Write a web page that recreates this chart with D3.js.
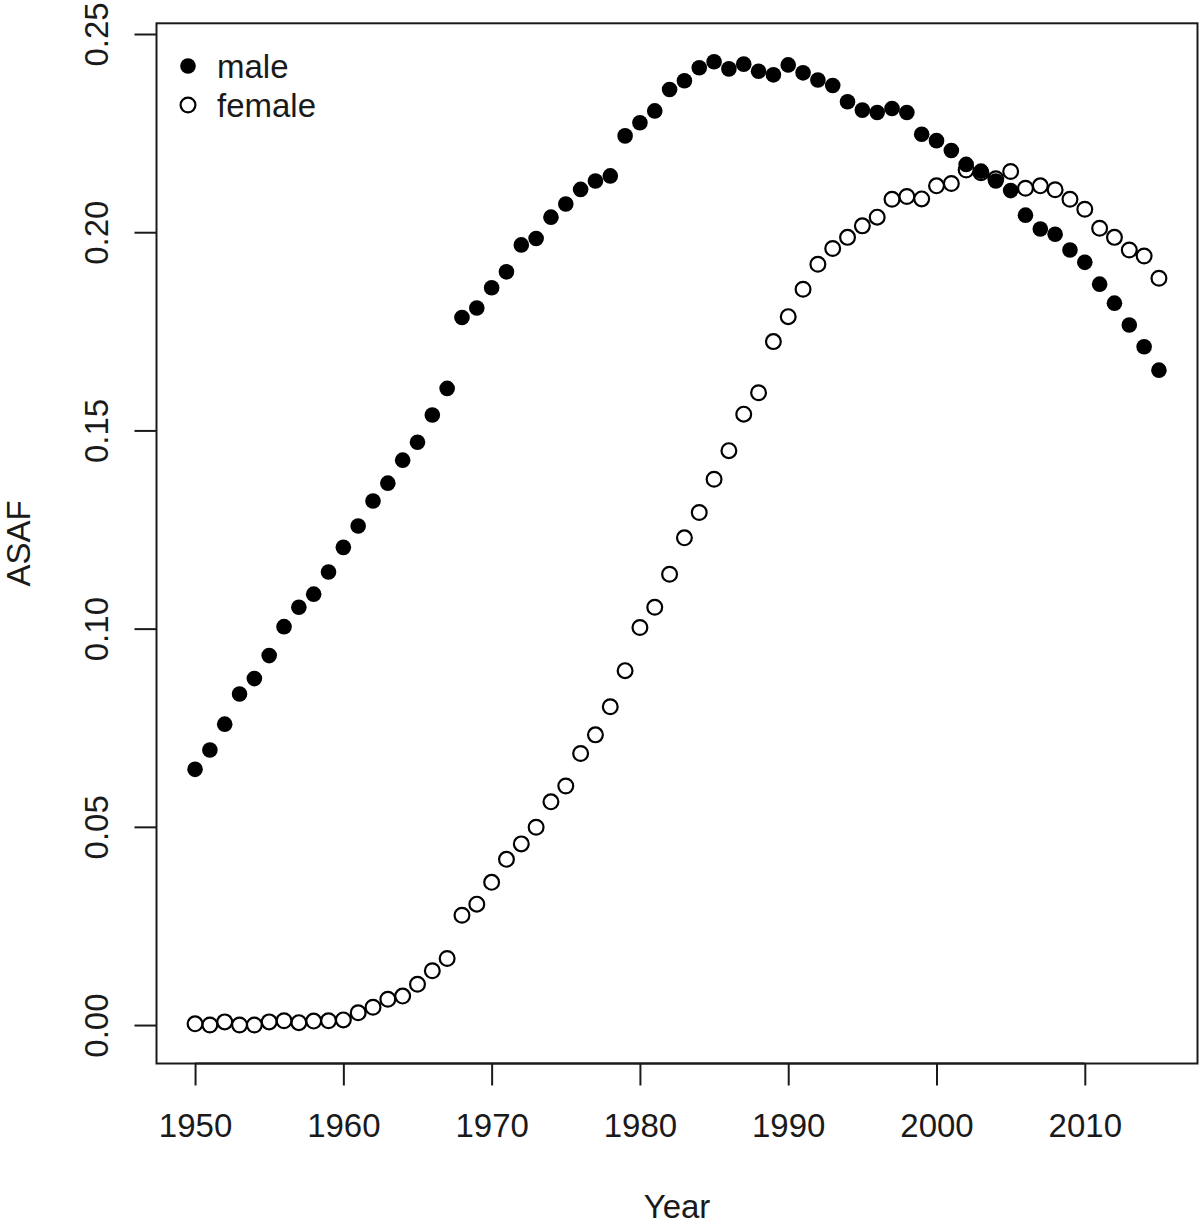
<!DOCTYPE html>
<html>
<head>
<meta charset="utf-8">
<script src="https://cdn.jsdelivr.net/npm/d3@7"></script>
<style>
  html, body { margin: 0; padding: 0; background: #fff; }
  svg { display: block; }
  text { font-family: "Liberation Sans", Arial, Helvetica, sans-serif; fill: #1a1a1a; }
</style>
</head>
<body>
<svg id="chart" width="1200" height="1224"></svg>
<script>
const years = d3.range(1950, 2016);
const male = [
  0.0645, 0.0694, 0.0759, 0.0835, 0.0874, 0.0932, 0.1005, 0.1054, 0.1087, 0.1143,
  0.1205, 0.1259, 0.1322, 0.1367, 0.1425, 0.1470, 0.1539, 0.1606, 0.1785, 0.1809,
  0.1860, 0.1900, 0.1968, 0.1984, 0.2038, 0.2071, 0.2108, 0.2129, 0.2142, 0.2243,
  0.2276, 0.2306, 0.2360, 0.2382, 0.2415, 0.2430, 0.2412, 0.2424, 0.2406, 0.2397,
  0.2422, 0.2402, 0.2384, 0.2370, 0.2329, 0.2308, 0.2302, 0.2312, 0.2302, 0.2247,
  0.2231, 0.2206, 0.2171, 0.2154, 0.2129, 0.2105, 0.2043, 0.2008, 0.1995, 0.1955,
  0.1924, 0.1869, 0.1821, 0.1766, 0.1711, 0.1652
];
const female = [
  0.0003, 0.0000, 0.0008, 0.0000, 0.0000, 0.0008, 0.0011, 0.0006, 0.0010, 0.0011,
  0.0013, 0.0031, 0.0045, 0.0065, 0.0073, 0.0103, 0.0137, 0.0168, 0.0277, 0.0305,
  0.0360, 0.0418, 0.0457, 0.0499, 0.0563, 0.0603, 0.0685, 0.0732, 0.0803, 0.0894,
  0.1003, 0.1054, 0.1137, 0.1229, 0.1293, 0.1377, 0.1449, 0.1541, 0.1595, 0.1724,
  0.1787, 0.1856, 0.1919, 0.1959, 0.1987, 0.2016, 0.2038, 0.2083, 0.2090, 0.2084,
  0.2117, 0.2123, 0.2157, 0.2150, 0.2135, 0.2153, 0.2111, 0.2117, 0.2107, 0.2083,
  0.2058, 0.2010, 0.1987, 0.1955, 0.1940, 0.1884
];
const xTicks = [1950, 1960, 1970, 1980, 1990, 2000, 2010];
const yTicks = [0.00, 0.05, 0.10, 0.15, 0.20, 0.25];
const seriesNames = ["male", "female"];

const svg = d3.select("#chart");
const pLeft = 156.5, pRight = 1197.5, pTop = 23.3, pBottom = 1063.5;
const x = d3.scaleLinear().domain([1947.4, 2017.6]).range([pLeft, pRight]);
const y = d3.scaleLinear().domain([-0.0097, 0.2527]).range([pBottom, pTop]);
const FS = 33;
const ink = "#1a1a1a";

// x axis ticks
const xAxis = d3.axisBottom(x).tickValues(xTicks).tickSize(22).tickPadding(28)
  .tickFormat(d3.format("d"));
const gx = svg.append("g").attr("transform", `translate(0,${pBottom})`).call(xAxis);
gx.select(".domain").remove();
gx.selectAll(".tick line").attr("stroke", ink).attr("stroke-width", 2);
gx.selectAll(".tick text").attr("font-size", FS).attr("fill", ink)
  .attr("font-family", "Liberation Sans, Arial, sans-serif");
svg.append("line").attr("x1", x(xTicks[0])).attr("x2", x(xTicks[xTicks.length-1]))
  .attr("y1", pBottom).attr("y2", pBottom).attr("stroke", ink).attr("stroke-width", 2);

// y axis ticks
const yAxis = d3.axisLeft(y).tickValues(yTicks).tickSize(22).tickFormat(d3.format(".2f"));
const gy = svg.append("g").attr("transform", `translate(${pLeft},0)`).call(yAxis);
gy.select(".domain").remove();
gy.selectAll(".tick line").attr("stroke", ink).attr("stroke-width", 2);
gy.selectAll(".tick text")
  .attr("font-size", FS).attr("fill", ink)
  .attr("font-family", "Liberation Sans, Arial, sans-serif")
  .attr("text-anchor", "middle")
  .attr("x", null)
  .attr("transform", `translate(${96 - pLeft},0) rotate(-90)`)
  .attr("dy", "0.35em");

// plot box
svg.append("rect").attr("x", pLeft).attr("y", pTop)
  .attr("width", pRight - pLeft).attr("height", pBottom - pTop)
  .attr("fill", "none").attr("stroke", ink).attr("stroke-width", 2);

// axis titles
svg.append("text").attr("x", (pLeft + pRight) / 2).attr("y", 1206).attr("dy", "0.35em")
  .attr("text-anchor", "middle").attr("font-size", FS).text("Year");
svg.append("text").attr("transform", `translate(18,${(pTop + pBottom) / 2}) rotate(-90)`)
  .attr("dy", "0.35em").attr("text-anchor", "middle").attr("font-size", FS).text("ASAF");

// points
const maleData = years.map((yr, i) => ({ yr, v: male[i] }));
const femaleData = years.map((yr, i) => ({ yr, v: female[i] }));
svg.append("g").selectAll("circle").data(maleData).join("circle")
  .attr("cx", d => x(d.yr)).attr("cy", d => y(d.v)).attr("r", 7.8)
  .attr("fill", "#000");
svg.append("g").selectAll("circle").data(femaleData).join("circle")
  .attr("cx", d => x(d.yr)).attr("cy", d => y(d.v)).attr("r", 7.4)
  .attr("fill", "none").attr("stroke", "#000").attr("stroke-width", 2.2);

// legend
const lg = svg.append("g");
const rows = [{ name: seriesNames[0], filled: true, cy: 66 }, { name: seriesNames[1], filled: false, cy: 105 }];
rows.forEach(r => {
  if (r.filled) {
    lg.append("circle").attr("cx", 188).attr("cy", r.cy).attr("r", 7.8).attr("fill", "#000");
  } else {
    lg.append("circle").attr("cx", 188).attr("cy", r.cy).attr("r", 7.4)
      .attr("fill", "none").attr("stroke", "#000").attr("stroke-width", 2.2);
  }
  lg.append("text").attr("x", 217).attr("y", r.cy).attr("dy", "0.35em")
    .attr("font-size", FS).text(r.name);
});
</script>
</body>
</html>
